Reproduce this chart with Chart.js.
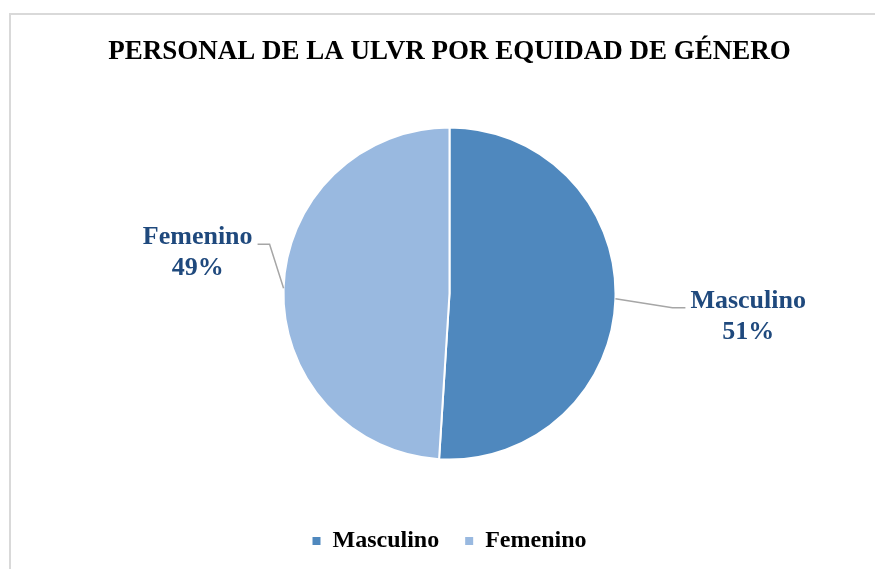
<!DOCTYPE html>
<html lang="es">
<head>
    <meta charset="UTF-8">
    <title>Personal de la ULVR por equidad de género</title>
    <script src="https://cdn.jsdelivr.net/npm/chart.js"></script>
    <style>
        html, body { margin: 0; padding: 0; background: #fff; }
        .frame {
            position: absolute; left: 9px; top: 13px; width: 900px; height: 600px;
            border-left: 2px solid #d9d9d9; border-top: 2px solid #d9d9d9;
        }
        .wrap { position: absolute; left: 0; top: 0; width: 875px; height: 569px; }
    </style>
</head>
<body>
    <div class="frame"></div>
    <div class="wrap"><canvas id="genderChart" width="875" height="569"></canvas></div>

    <script>
        // data
        const categories = ['Masculino', 'Femenino'];
        const percentages = [51, 49];
        const sliceColors = ['#4f88be', '#99b9e0'];

        // where the leader lines bend, relative to the slice edge
        const labelLayout = [
            { dx: 57, dy: 9, tail: 13 },
            { dx: -14, dy: -44, tail: -12 }
        ];

        const serif = "'Liberation Serif', 'Times New Roman', serif";

        const leaderLabels = {
            id: 'leaderLabels',
            afterDatasetsDraw(chart) {
                const ctx = chart.ctx;
                const meta = chart.getDatasetMeta(0);
                meta.data.forEach((arc, i) => {
                    const p = arc.getProps(['x', 'y', 'startAngle', 'endAngle', 'outerRadius'], true);
                    const mid = (p.startAngle + p.endAngle) / 2;
                    const ex = p.x + Math.cos(mid) * p.outerRadius;
                    const ey = p.y + Math.sin(mid) * p.outerRadius;
                    const lay = labelLayout[i];
                    const kx = ex + lay.dx, ky = ey + lay.dy;
                    const tx = kx + lay.tail;

                    ctx.save();
                    ctx.strokeStyle = '#a6a6a6';
                    ctx.lineWidth = 1.5;
                    ctx.beginPath();
                    ctx.moveTo(ex, ey);
                    ctx.lineTo(kx, ky);
                    ctx.lineTo(tx, ky);
                    ctx.stroke();

                    const lines = [categories[i], percentages[i] + '%'];
                    ctx.font = 'bold 26px ' + serif;
                    ctx.fillStyle = '#1f497d';
                    ctx.textAlign = 'center';
                    ctx.textBaseline = 'alphabetic';
                    const w = Math.max(...lines.map(t => ctx.measureText(t).width));
                    const side = lay.tail > 0 ? 1 : -1;
                    const cx = tx + side * (5 + w / 2);
                    lines.forEach((t, j) => ctx.fillText(t, cx, ky + j * 31));
                    ctx.restore();
                });
            }
        };

        new Chart(document.getElementById('genderChart'), {
            type: 'pie',
            data: {
                labels: categories,
                datasets: [{
                    data: percentages,
                    backgroundColor: sliceColors,
                    borderColor: '#ffffff',
                    borderWidth: 2,
                    radius: 166
                }]
            },
            options: {
                responsive: false,
                animation: false,
                layout: { padding: { left: 24, right: 0, top: 0, bottom: 6 } },
                plugins: {
                    tooltip: { enabled: false },
                    title: {
                        display: true,
                        text: 'PERSONAL DE LA ULVR POR EQUIDAD DE GÉNERO',
                        color: '#000',
                        font: { family: serif, size: 27, weight: 'bold' },
                        padding: { top: 36, bottom: 15.6 }
                    },
                    legend: {
                        position: 'bottom',
                        labels: {
                            color: '#000',
                            font: { family: serif, size: 24, weight: 'bold' },
                            usePointStyle: true,
                            pointStyle: 'rect',
                            boxWidth: 8,
                            boxHeight: 8,
                            padding: 26,
                            generateLabels(chart) {
                                return Chart.overrides.pie.plugins.legend.labels.generateLabels(chart)
                                    .map(l => ({ ...l, lineWidth: 0 }));
                            }
                        }
                    }
                }
            },
            plugins: [leaderLabels]
        });
    </script>
</body>
</html>
